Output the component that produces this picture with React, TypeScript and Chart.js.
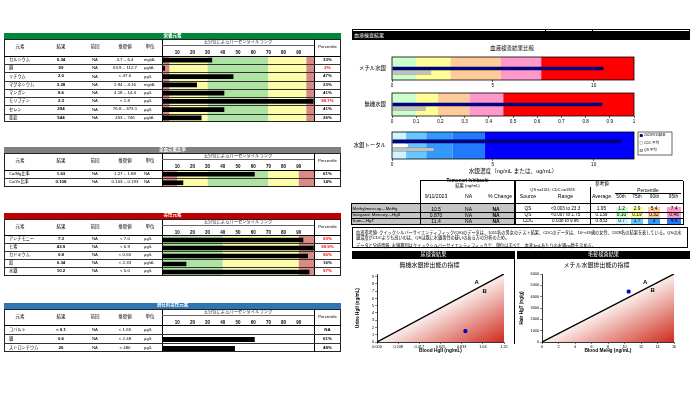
import React, { useEffect, useRef } from "react";
import { Chart, registerables } from "chart.js";
Chart.register(...registerables);

const SANS = '"Liberation Sans", Arial, "Noto Sans CJK JP", sans-serif';
Chart.defaults.font.family = SANS;
Chart.defaults.color = "#000";

// ---------- Left tables data ----------
const pctTicks = [10, 20, 30, 40, 50, 60, 70, 80, 90];

const nutrientNames = ["カルシウム", "銅", "リチウム", "マグネシウム", "マンガン", "モリブデン", "セレン", "亜鉛"];
const nutrientResults = ["5.34", "59", "2.0", "3.28", "8.6", "2.3", "294", "544"];
const nutrientPrev = ["NA", "NA", "NA", "NA", "NA", "NA", "NA", "NA"];
const nutrientRanges = ["4.7 – 6.4", "63.9 – 112.7", "< 47.0", "2.94 – 4.16", "4.18 – 14.4", "< 1.8", "76.8 – 373.1", "453 – 746"];
const nutrientUnits = ["mg/dL", "µg/dL", "µg/L", "mg/dL", "µg/L", "µg/L", "µg/L", "µg/dL"];
const nutrientPct = [33, 2, 47, 23, 41, 99.7, 41, 26];
const nutrientPctLabels = ["33%", "2%", "47%", "23%", "41%", "99.7%", "41%", "26%"];
const nutrientFlags = [false, true, false, false, false, true, false, false];
const nutrientBands: [number, number, string][] = [[0, 5, "#d98a84"], [5, 30, "#fdfca8"], [30, 70, "#aee3a4"], [70, 95, "#fdfca8"], [95, 100, "#d98a84"]];

const ratioNames = ["Ca/Mg比率", "Cu/Zn比率"];
const ratioResults = ["1.63", "0.108"];
const ratioPrev = ["NA", "NA"];
const ratioRanges = ["1.27 – 1.88", "0.103 – 0.193"];
const ratioUnits = ["NA", "NA"];
const ratioPct = [61, 14];
const ratioPctLabels = ["61%", "14%"];
const ratioFlags = [false, false];
const ratioBands: [number, number, string][] = [[0, 10, "#d98a84"], [10, 30, "#fdfca8"], [30, 70, "#aee3a4"], [70, 90, "#fdfca8"], [90, 100, "#d98a84"]];

const toxicNames = ["アンチモニー", "ヒ素", "カドミウム", "鉛", "水銀"];
const toxicResults = ["7.3", "43.9", "0.8", "0.34", "10.2"];
const toxicPrev = ["NA", "NA", "NA", "NA", "NA"];
const toxicRanges = ["< 7.0", "< 6.9", "< 0.65", "< 2.33", "< 5.0"];
const toxicUnits = ["µg/L", "µg/L", "µg/L", "µg/dL", "µg/L"];
const toxicPct = [93, 99.9, 96, 16, 97];
const toxicPctLabels = ["93%", "99.9%", "96%", "16%", "97%"];
const toxicFlags = [true, true, true, false, true];
const toxicBands: [number, number, string][] = [[0, 40, "#aee3a4"], [40, 90, "#fdfca8"], [90, 100, "#d98a84"]];

const potentialNames = ["コバルト", "銀", "ストロンチウム"];
const potentialResults = ["< 0.1", "0.6", "26"];
const potentialPrev = ["NA", "NA", "NA"];
const potentialRanges = ["< 1.65", "< 2.48", "< 480"];
const potentialUnits = ["µg/L", "µg/L", "µg/L"];
const potentialPct = [null, 61, 48];
const potentialPctLabels = ["NA", "61%", "48%"];
const potentialFlags = [false, false, false];
const potentialBands: [number, number, string][] = [];

// ---------- Mercury blood data ----------
const mercuryCategories = ["メチル水銀", "無機水銀", "水銀トータル"];
const resultValues = [10.5, 0.87, 11.4];
const qsAverage = [1.95, 0.139, 2.09];
const cdcAverage = [null, null, 0.833];
const p50 = [1.2, 0.1, 0.7];
const p75 = [2.9, 0.19, 1.7];
const p90 = [5.4, 0.32, 3];
const p95 = [7.4, 0.46, 4.6];
const axisMax = [12, 1, 12];
const tickValues = [[0, 5, 10], [0, 0.1, 0.2, 0.3, 0.4, 0.5, 0.6, 0.7, 0.8, 0.9, 1], [0, 5, 10]];
const tickLabels = [["0", "5", "10"], ["0", "0.1", "0.2", "0.3", "0.4", "0.5", "0.6", "0.7", "0.8", "0.9", "1"], ["0", "5", "10"]];
const legendLabels = ["2023/9/11結果", "CDC 平均", "QS 平均"];
const warmColors = ["#ccffcc", "#ffff99", "#ffcc99", "#ff99cc", "#ff0000"];
const blueColors = ["#ccf6ff", "#66c6ff", "#3399ff", "#1f7aff", "#0000ff"];

const tableRowLabels = ["Methylmercury—MeHg", "Inorganic Mercury—HgII", "Sum—HgT"];
const tableResult = ["10.5", "0.870", "11.4"];
const tablePrev = ["NA", "NA", "NA"];
const tableChange = ["NA", "NA", "NA"];
const tableSource = ["QS", "QS", "CDC"];
const tableRange = ["<0.003 to 23.3", "<0.007 to 1.75", "0.038 to 9.96"];
const tableAverage = ["1.95", "0.139", "0.833"];
const tableP50 = ["1.2", "0.10", "0.7"];
const tableP75 = ["2.9", "0.19", "1.7"];
const tableP90 = ["5.4", "0.32", "3"];
const tableP95 = ["7.4", "0.46", "4.6"];

// ---------- Excretion scatter data ----------
const urineLine = [{ x: 0, y: 0 }, { x: 1.25, y: 9.375 }];
const urinePoint = [{ x: 0.87, y: 1.5 }];
const urineXTicks = [0, 0.2083, 0.4167, 0.625, 0.8333, 1.0417, 1.25];
const urineXLabels = ["0.000", "0.208", "0.417", "0.625", "0.833", "1.04", "1.25"];
const urineYTicks = [0, 1, 2, 3, 4, 5, 6, 7, 8, 9];
const urineYLabels = ["0", "1", "2", "3", "4", "5", "6", "7", "8", "9"];
const urineMarks = [{ x: 0.98, y: 8.25, t: "A" }, { x: 1.06, y: 7.0, t: "B" }];

const hairLine = [{ x: 0, y: 0 }, { x: 16, y: 6000 }];
const hairPoint = [{ x: 10.5, y: 4450 }];
const hairXTicks = [0, 2, 4, 6, 8, 10, 12, 14, 16];
const hairXLabels = ["0", "2", "4", "6", "8", "10", "12", "14", "16"];
const hairYTicks = [0, 1000, 2000, 3000, 4000, 5000, 6000];
const hairYLabels = ["0", "1000", "2000", "3000", "4000", "5000", "6000"];
const hairMarks = [{ x: 12.5, y: 5300, t: "A" }, { x: 13.4, y: 4530, t: "B" }];

// ---------- helpers ----------
const Box = ({ x, y, w, h, style, children }: any) => (
  <div style={{ position: "absolute", left: x, top: y, width: w, height: h, boxSizing: "border-box", ...style }}>{children}</div>
);
const T = ({ x, y, w, h, a = "center", s = 4.5, b = false, c = "#000", style, children }: any) => (
  <div
    style={{
      position: "absolute", left: x, top: y, width: w, height: h, display: "flex", alignItems: "center",
      justifyContent: a === "left" ? "flex-start" : a === "right" ? "flex-end" : "center",
      fontSize: s, fontWeight: b ? 700 : 400, color: c, whiteSpace: "nowrap", lineHeight: 1, ...style,
    }}
  >
    {children}
  </div>
);
const HL = ({ x, y, w, t = 0.6, c = "#000" }: any) => <Box x={x} y={y - t / 2} w={w} h={t} style={{ background: c }} />;
const VL = ({ x, y, h, t = 0.6, c = "#000" }: any) => <Box x={x - t / 2} y={y} w={t} h={h} style={{ background: c }} />;

const zeroPad = (s: any) => { s.paddingTop = 0; s.paddingBottom = 0; s.paddingLeft = 0; s.paddingRight = 0; };

function PctBars({ x, y, w, h, axisH, labels, values, bands }: any) {
  const ref = useRef<HTMLCanvasElement>(null);
  useEffect(() => {
    const bandPlugin = {
      id: "pctBands",
      beforeDatasetsDraw(chart: any) {
        const { ctx, chartArea } = chart;
        const xs = chart.scales.x;
        ctx.save();
        for (const [a, b, c] of bands) {
          const x0 = xs.getPixelForValue(a), x1 = xs.getPixelForValue(b);
          ctx.fillStyle = c;
          ctx.fillRect(x0, chartArea.top, x1 - x0, chartArea.bottom - chartArea.top);
        }
        ctx.restore();
      },
    };
    const chart = new Chart(ref.current!, {
      type: "bar",
      data: { labels, datasets: [{ data: values, backgroundColor: "#000", borderWidth: 0, barPercentage: 0.55, categoryPercentage: 1 }] },
      options: {
        animation: false, responsive: false, devicePixelRatio: 1, indexAxis: "y",
        layout: { padding: 0 },
        plugins: { legend: { display: false }, tooltip: { enabled: false } },
        scales: {
          x: {
            position: "top", min: 0, max: 100,
            afterBuildTicks: (s: any) => { s.ticks = pctTicks.map((v) => ({ value: v })); },
            afterFit: (s: any) => { s.height = axisH; zeroPad(s); },
            grid: { display: false, drawTicks: false }, border: { display: false },
            ticks: { font: { size: 4.5, weight: "bold" }, color: "#000", padding: 1, maxRotation: 0, autoSkip: false },
          },
          y: { display: false },
        },
      } as any,
      plugins: [bandPlugin],
    });
    return () => chart.destroy();
  }, []);
  return <canvas ref={ref} width={w} height={h} style={{ position: "absolute", left: x, top: y, width: w, height: h }} />;
}

function LeftPanel(p: any) {
  const L = 4, R = 341, W = R - L;
  const hdrH = 6, colH = 17;
  const colTop = p.top + hdrH;
  const rowsTop = colTop + colH;
  const n = p.names.length;
  const bottom = rowsTop + n * p.rowH;
  const cx0 = 162, cx1 = 314;
  const canvasTop = rowsTop - 9;
  const canvasH = Math.round(bottom - canvasTop);
  const hy = colTop + 4;
  return (
    <>
      <PctBars x={cx0} y={canvasTop} w={cx1 - cx0} h={canvasH} axisH={9} labels={p.names} values={p.pct} bands={p.bands} />
      <Box x={L} y={p.top} w={W} h={hdrH} style={{ background: p.color }} />
      <T x={L} y={p.top} w={W} h={hdrH} s={4.5} b c="#fff">{p.title}</T>
      <Box x={L} y={colTop} w={W} h={bottom - colTop} style={{ border: "1px solid #222" }} />
      <VL x={cx0} y={colTop} h={bottom - colTop} t={1} />
      <VL x={cx1} y={colTop} h={bottom - colTop} t={1} />
      <HL x={L} y={rowsTop} w={W} t={1} />
      <HL x={cx0} y={colTop + 6.5} w={cx1 - cx0} t={0.4} c="#666" />
      <T x={L} y={hy} w={32} h={9} s={4.5}>元素</T>
      <T x={46} y={hy} w={30} h={9} s={4.5}>結果</T>
      <T x={80} y={hy} w={30} h={9} s={4.5}>前回</T>
      <T x={108} y={hy} w={34} h={9} s={4.5}>推奨値</T>
      <T x={140} y={hy} w={20} h={9} s={4.5}>単位</T>
      <T x={cx0} y={colTop + 1} w={cx1 - cx0} h={5} s={4.3} c="#333">五分位によるパーセンタイルランク</T>
      <T x={cx1} y={hy} w={R - cx1} h={9} s={4.2}>Percentile</T>
      {p.names.map((nm: string, i: number) => {
        const ry = rowsTop + i * p.rowH;
        return (
          <React.Fragment key={i}>
            <T x={9} y={ry} w={60} h={p.rowH} a="left" s={4.2}>{nm}</T>
            <T x={46} y={ry} w={30} h={p.rowH} s={4.4} b>{p.results[i]}</T>
            <T x={80} y={ry} w={30} h={p.rowH} s={4.2}>{p.prev[i]}</T>
            <T x={103} y={ry} w={44} h={p.rowH} s={4.4}>{p.ranges[i]}</T>
            <T x={144} y={ry} w={18} h={p.rowH} a="left" s={4.2}>{p.units[i]}</T>
            <T x={cx1} y={ry} w={R - cx1} h={p.rowH} s={4.4} b c={p.flags[i] ? "#ff0000" : "#000"}>{p.pctLabels[i]}</T>
            {i < n - 1 && <HL x={L} y={ry + p.rowH} w={W} t={0.5} c="#333" />}
          </React.Fragment>
        );
      })}
    </>
  );
}

function MercuryChart({ x, y, w, h, idx, datasets, catPct, axisH, xTitle, legend }: any) {
  const ref = useRef<HTMLCanvasElement>(null);
  useEffect(() => {
    const colors = idx === 2 ? blueColors : warmColors;
    const edges = [0, p50[idx], p75[idx], p90[idx], p95[idx], axisMax[idx]];
    const plug = {
      id: "hgBands",
      beforeDatasetsDraw(chart: any) {
        const { ctx, chartArea } = chart;
        const xs = chart.scales.x;
        ctx.save();
        for (let i = 0; i < 5; i++) {
          const x0 = xs.getPixelForValue(edges[i]), x1 = xs.getPixelForValue(edges[i + 1]);
          ctx.fillStyle = colors[i];
          ctx.fillRect(x0, chartArea.top, x1 - x0, chartArea.bottom - chartArea.top);
        }
        ctx.restore();
      },
      afterDatasetsDraw(chart: any) {
        const { ctx, chartArea } = chart;
        ctx.save();
        ctx.strokeStyle = "#000";
        ctx.lineWidth = 0.8;
        ctx.strokeRect(chartArea.left, chartArea.top, chartArea.right - chartArea.left, chartArea.bottom - chartArea.top);
        if (legend) {
          const lx = chartArea.right + 4, ly = chartArea.top, lw = 34, lh = 23;
          ctx.fillStyle = "#fff";
          ctx.fillRect(lx, ly, lw, lh);
          ctx.lineWidth = 0.6;
          ctx.strokeRect(lx, ly, lw, lh);
          chart.data.datasets.forEach((ds: any, i: number) => {
            const iy = ly + 3.5 + i * 7.5;
            ctx.fillStyle = ds.backgroundColor;
            ctx.fillRect(lx + 2, iy - 1.3, 2.6, 2.6);
            ctx.strokeStyle = ds.borderColor;
            ctx.lineWidth = 0.4;
            ctx.strokeRect(lx + 2, iy - 1.3, 2.6, 2.6);
            ctx.fillStyle = "#000";
            ctx.font = `3.4px ${SANS}`;
            ctx.textBaseline = "middle";
            ctx.fillText(ds.label, lx + 6, iy);
          });
        }
        ctx.restore();
      },
    };
    const chart = new Chart(ref.current!, {
      type: "bar",
      data: {
        labels: [mercuryCategories[idx]],
        datasets: datasets.map((d: any) => ({
          label: d.label, data: [d.value], backgroundColor: d.color, borderColor: d.border, borderWidth: d.bw,
          barPercentage: 1, categoryPercentage: catPct,
        })),
      },
      options: {
        animation: false, responsive: false, devicePixelRatio: 1, indexAxis: "y",
        layout: { padding: { top: 1, right: 42, left: 0, bottom: 0 } },
        plugins: { legend: { display: false }, tooltip: { enabled: false } },
        scales: {
          x: {
            type: "linear", min: 0, max: axisMax[idx],
            afterBuildTicks: (s: any) => { s.ticks = tickValues[idx].map((v) => ({ value: v })); },
            afterFit: (s: any) => { s.height = axisH; zeroPad(s); },
            grid: { drawOnChartArea: false, drawTicks: true, tickLength: 2, color: "#000", lineWidth: 0.6 },
            border: { display: false },
            ticks: { font: { size: 4.6 }, color: "#000", padding: 1, maxRotation: 0, autoSkip: false, callback: (_v: any, i: number) => tickLabels[idx][i] },
            title: xTitle ? { display: true, text: xTitle, font: { size: 5.6 }, color: "#000", padding: { top: 2, bottom: 1 } } : { display: false },
          },
          y: {
            type: "category",
            afterFit: (s: any) => { s.width = 42; zeroPad(s); },
            grid: { display: false, drawTicks: false, tickLength: 0 }, border: { display: false },
            ticks: { font: { size: 5.4 }, color: "#000", padding: 6 },
          },
        },
      } as any,
      plugins: [plug],
    });
    return () => chart.destroy();
  }, []);
  return <canvas ref={ref} width={w} height={h} style={{ position: "absolute", left: x, top: y, width: w, height: h }} />;
}

function ExcretionChart(p: any) {
  const ref = useRef<HTMLCanvasElement>(null);
  useEffect(() => {
    const marksPlugin = {
      id: "marks",
      afterDatasetsDraw(chart: any) {
        const { ctx } = chart;
        const xs = chart.scales.x, ys = chart.scales.y;
        ctx.save();
        ctx.fillStyle = "#000";
        ctx.font = `bold 6px ${SANS}`;
        ctx.textAlign = "center";
        ctx.textBaseline = "middle";
        for (const m of p.marks) ctx.fillText(m.t, xs.getPixelForValue(m.x), ys.getPixelForValue(m.y));
        ctx.restore();
      },
    };
    const line = p.line;
    const grad = (c: any) => {
      const ch = c.chart;
      const ca = ch.chartArea;
      if (!ca) return "rgba(220,80,60,0.5)";
      const xs = ch.scales.x, ys = ch.scales.y;
      const x0 = xs.getPixelForValue(line[0].x), y0 = ys.getPixelForValue(line[0].y);
      const x1 = xs.getPixelForValue(line[1].x), y1 = ys.getPixelForValue(line[1].y);
      const mx = (x0 + x1) / 2, my = (y0 + y1) / 2;
      const dx = x1 - x0, dy = y1 - y0;
      const len = Math.hypot(dx, dy);
      const nx = -dy / len, ny = dx / len;
      const d = (x1 - mx) * nx + (y0 - my) * ny;
      const g = ch.ctx.createLinearGradient(mx, my, mx + nx * d, my + ny * d);
      g.addColorStop(0, "#fbeeec");
      g.addColorStop(1, "#cf2a1c");
      return g;
    };
    const chart = new Chart(ref.current!, {
      type: "scatter",
      data: {
        datasets: [
          { type: "scatter", data: p.point, pointStyle: "rect", pointRadius: 2, backgroundColor: "#0000cc", borderColor: "#0000cc" },
          { type: "line", data: line, borderColor: "#000", borderWidth: 1.4, pointRadius: 0, fill: "origin", backgroundColor: grad, tension: 0 },
        ],
      },
      options: {
        animation: false, responsive: false, devicePixelRatio: 1,
        layout: { padding: { top: 0, right: p.padRight, left: 0, bottom: 0 } },
        plugins: {
          legend: { display: false }, tooltip: { enabled: false },
          title: { display: true, text: p.title, font: { size: 6, weight: "normal" }, color: "#000", padding: { top: 3, bottom: 4.8 } },
        },
        scales: {
          x: {
            type: "linear", min: 0, max: p.xMax,
            afterBuildTicks: (s: any) => { s.ticks = p.xTicks.map((v: number) => ({ value: v })); },
            afterFit: (s: any) => { s.height = 12; zeroPad(s); },
            grid: { drawOnChartArea: false, drawTicks: true, tickLength: 2, color: "#000", lineWidth: 0.5 },
            border: { display: true, color: "#000", width: 0.8 },
            ticks: { font: { size: 3.8 }, color: "#000", padding: 1, maxRotation: 0, autoSkip: false, callback: (_v: any, i: number) => p.xLabels[i] },
            title: { display: true, text: p.xTitle, font: { size: 4.8, weight: "bold" }, color: "#000", padding: { top: 1, bottom: 0 } },
          },
          y: {
            type: "linear", min: 0, max: p.yMax,
            afterBuildTicks: (s: any) => { s.ticks = p.yTicks.map((v: number) => ({ value: v })); },
            afterFit: (s: any) => { s.width = p.yAxisW; zeroPad(s); },
            grid: { drawOnChartArea: false, drawTicks: true, tickLength: 2, color: "#000", lineWidth: 0.5 },
            border: { display: true, color: "#000", width: 0.8 },
            ticks: { font: { size: 3.8 }, color: "#000", padding: 1, autoSkip: false, callback: (_v: any, i: number) => p.yLabels[i] },
            title: { display: true, text: p.yTitle, font: { size: 4.6, weight: "bold" }, color: "#000", padding: { top: 0, bottom: 1 } },
          },
        },
      } as any,
      plugins: [marksPlugin],
    });
    return () => chart.destroy();
  }, []);
  return <canvas ref={ref} width={p.w} height={p.h} style={{ position: "absolute", left: p.x, top: p.y, width: p.w, height: p.h }} />;
}

export default function App() {
  useEffect(() => { document.body.style.margin = "0"; }, []);
  const tRowY = (i: number) => 206.5 + i * 6;
  const pctColors = (i: number) => (i === 2 ? blueColors : warmColors);
  return (
    <div style={{ position: "fixed", left: 0, top: 0, width: 700, height: 393, overflow: "hidden", background: "#fff", fontFamily: SANS, color: "#000" }}>
      {/* ----- left side ----- */}
      <LeftPanel top={33} color="#00873c" title="栄養元素" rowH={8.25} names={nutrientNames} results={nutrientResults} prev={nutrientPrev}
        ranges={nutrientRanges} units={nutrientUnits} pct={nutrientPct} pctLabels={nutrientPctLabels} flags={nutrientFlags} bands={nutrientBands} />
      <LeftPanel top={147} color="#808080" title="全血元素比率" rowH={8.4} names={ratioNames} results={ratioResults} prev={ratioPrev}
        ranges={ratioRanges} units={ratioUnits} pct={ratioPct} pctLabels={ratioPctLabels} flags={ratioFlags} bands={ratioBands} />
      <LeftPanel top={212.5} color="#c00000" title="毒性元素" rowH={8} names={toxicNames} results={toxicResults} prev={toxicPrev}
        ranges={toxicRanges} units={toxicUnits} pct={toxicPct} pctLabels={toxicPctLabels} flags={toxicFlags} bands={toxicBands} />
      <LeftPanel top={302.5} color="#2e75b6" title="潜在的毒性元素" rowH={8.9} names={potentialNames} results={potentialResults} prev={potentialPrev}
        ranges={potentialRanges} units={potentialUnits} pct={potentialPct} pctLabels={potentialPctLabels} flags={potentialFlags} bands={potentialBands} />

      {/* ----- right side: blood ----- */}
      <HL x={352} y={29} w={338} t={0.8} />
      {[352.4, 545, 592, 689.6].map((vx, i) => <VL key={i} x={vx} y={29} h={3} t={0.8} />)}
      <Box x={352} y={31} w={338} h={9} style={{ background: "#000" }} />
      <T x={354} y={31} w={100} h={9} a="left" s={5} c="#fff">血液検査結果</T>
      <T x={462} y={46} w={100} h={6} s={5.5}>血液検査結果比較</T>

      <MercuryChart x={350} y={56} w={326} h={33} idx={0} catPct={0.55} axisH={9}
        datasets={[
          { label: legendLabels[1], value: cdcAverage[0], color: "#ffffff", border: "#808080", bw: 0.5 },
          { label: legendLabels[0], value: resultValues[0], color: "#000080", border: "#000040", bw: 0.5 },
          { label: legendLabels[2], value: qsAverage[0], color: "#c0c0c0", border: "#606060", bw: 0.5 },
        ]} />
      <MercuryChart x={350} y={92} w={326} h={33} idx={1} catPct={0.55} axisH={9}
        datasets={[
          { label: legendLabels[1], value: cdcAverage[1], color: "#ffffff", border: "#808080", bw: 0.5 },
          { label: legendLabels[0], value: resultValues[1], color: "#000080", border: "#000040", bw: 0.5 },
          { label: legendLabels[2], value: qsAverage[1], color: "#c0c0c0", border: "#606060", bw: 0.5 },
        ]} />
      <MercuryChart x={350} y={131} w={326} h={45} idx={2} catPct={0.47} axisH={17} legend
        xTitle="水銀濃度（ng/mL または、ug/mL）"
        datasets={[
          { label: legendLabels[0], value: resultValues[2], color: "#000080", border: "#000040", bw: 0.5 },
          { label: legendLabels[1], value: cdcAverage[2], color: "#ffffff", border: "#808080", bw: 0.5 },
          { label: legendLabels[2], value: qsAverage[2], color: "#c0c0c0", border: "#606060", bw: 0.5 },
        ]} />

      {/* ----- results table ----- */}
      <Box x={351} y={203.5} w={164} h={21} style={{ background: "#c4c4c4" }} />
      <HL x={420} y={180.5} w={263} t={0.6} />
      <VL x={420} y={180.5} h={44} t={0.8} />
      <VL x={515} y={180.5} h={44} t={1.4} />
      <VL x={590} y={187} h={37.5} t={0.6} />
      <VL x={683} y={180.5} h={44} t={0.6} />
      <HL x={351} y={203.5} w={332} t={1.2} />
      <HL x={351} y={224.5} w={332} t={1} />
      <VL x={351} y={203.5} h={21} t={1} />
      <T x={420} y={179} w={95} h={5} s={4.6} b>Tomonori Ishibashi</T>
      <T x={420} y={184} w={95} h={5} s={4.3}>結果 (ng/mL)</T>
      <T x={420} y={194} w={32} h={6} s={5.2}>9/11/2023</T>
      <T x={452} y={194} w={33} h={6} s={5.2}>NA</T>
      <T x={485} y={194} w={30} h={6} s={5.2}>% Change</T>
      <T x={560} y={181.5} w={84} h={5} s={4.6}>参考値</T>
      <T x={515} y={187.5} w={75} h={5} s={3.9}>QS n=1011; CDC n=1928</T>
      <T x={613} y={188.5} w={70} h={5} s={4.8}>Percentile</T>
      <HL x={615} y={193.5} w={66} t={0.5} />
      <T x={515} y={194} w={26} h={6} s={5.2}>Source</T>
      <T x={541} y={194} w={49} h={6} s={5.2}>Range</T>
      <T x={590} y={194} w={23} h={6} s={5.2}>Average</T>
      <T x={613} y={194} w={16} h={6} s={4.8}>50th</T>
      <T x={629} y={194} w={16} h={6} s={4.8}>75th</T>
      <T x={646} y={194} w={17} h={6} s={4.8}>90th</T>
      <T x={665} y={194} w={17} h={6} s={4.8}>95th</T>
      {tableRowLabels.map((lab, i) => {
        const ry = tRowY(i);
        const cols = pctColors(i);
        const pc = [tableP50[i], tableP75[i], tableP90[i], tableP95[i]];
        const pcx = [615.5, 631, 648, 667];
        return (
          <React.Fragment key={i}>
            <T x={352.5} y={ry} w={66} h={6} a="left" s={4.4}>{lab}</T>
            <T x={420} y={ry} w={32} h={6} s={5}>{tableResult[i]}</T>
            <T x={452} y={ry} w={33} h={6} s={5}>{tablePrev[i]}</T>
            <T x={485} y={ry} w={22} h={6} s={5} b style={{ textDecoration: "underline" }}>{tableChange[i]}</T>
            <T x={515} y={ry} w={26} h={6} s={4.8}>{tableSource[i]}</T>
            <T x={541} y={ry} w={49} h={6} s={4.6}>{tableRange[i]}</T>
            <T x={590} y={ry} w={23} h={6} s={4.8}>{tableAverage[i]}</T>
            {pc.map((v, j) => (
              <React.Fragment key={j}>
                <Box x={pcx[j]} y={ry + 0.5} w={j === 3 ? 14 : 12} h={5} style={{ background: cols[j] }} />
                <T x={pcx[j]} y={ry} w={j === 3 ? 14 : 12} h={6} s={4.8}>{v}</T>
              </React.Fragment>
            ))}
            {i < 2 && <HL x={351} y={ry + 6} w={332} t={0.6} />}
          </React.Fragment>
        );
      })}

      {/* ----- notes ----- */}
      <Box x={352} y={227} w={336} h={21} style={{ border: "0.8px solid #000", padding: "2px 3px", fontSize: 4.2, lineHeight: 1.3 }}>
        <div>血液参考値: クイックシルバーサイエンティフィック(QS)のデータは、1011名の男女のテスト結果、CDCのデータは、16〜49歳の女性、1928名の結果を表している。QSの水銀濃度がCDCよりも高いのは、QSは既に水銀毒性の疑いのある方の分析のため。</div>
        <div style={{ marginTop: 2.5 }}>データと分析情報: 水銀種別はクイックシルバーサイエンティフィックで、単位はすべて、血液1mLあたりの水銀ng数を示める。</div>
      </Box>

      {/* ----- urine / hair ----- */}
      <Box x={352} y={251} w={163} h={8} style={{ background: "#000" }} />
      <T x={352} y={251} w={163} h={8} s={5.2} c="#fff">尿検査結果</T>
      <Box x={517} y={251} w={173} h={8} style={{ background: "#000" }} />
      <T x={517} y={251} w={173} h={8} s={5.2} c="#fff">毛髪検査結果</T>
      <VL x={514.8} y={259} h={85} t={1.4} />

      <ExcretionChart x={355} y={259} w={155} h={95} padRight={6} yAxisW={22}
        title="無機水銀排出能の指標" xTitle="Blood HgII (ng/mL)" yTitle="Urine HgII (ng/mL)"
        line={urineLine} point={urinePoint} xMax={1.25} yMax={9.375}
        xTicks={urineXTicks} xLabels={urineXLabels} yTicks={urineYTicks} yLabels={urineYLabels} marks={urineMarks} />
      <ExcretionChart x={519} y={259} w={160} h={95} padRight={5} yAxisW={23}
        title="メチル水銀排出能の指標" xTitle="Blood MeHg (ng/mL)" yTitle="Hair HgT (ng/g)"
        line={hairLine} point={hairPoint} xMax={16} yMax={6000}
        xTicks={hairXTicks} xLabels={hairXLabels} yTicks={hairYTicks} yLabels={hairYLabels} marks={hairMarks} />
    </div>
  );
}
